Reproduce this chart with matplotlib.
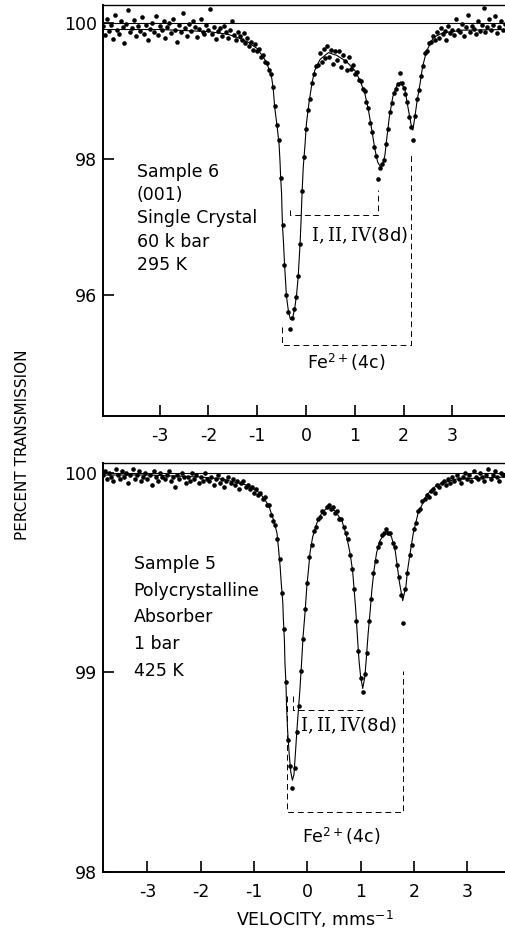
import matplotlib
matplotlib.use("Agg")
import matplotlib.pyplot as plt
import numpy as np

plt.rcParams['font.family'] = ['DejaVu Sans']
plt.rcParams['mathtext.fontset'] = 'dejavuserif'
plt.rcParams['axes.unicode_minus'] = False

# ---- Sample 6, (001) single crystal, 60 kbar, 295 K
V0_TOP, DV_TOP = -4.16, 0.04  # first velocity channel and channel width (mm/s)
trans_top = [
    99.95, 99.82, 100.05, 99.88, 99.97, 99.76, 100.12, 99.90, 99.84, 100.02,
    99.93, 99.70, 99.98, 100.18, 99.86, 99.92, 100.04, 99.80, 99.95, 99.88,
    100.08, 99.84, 99.96, 99.74, 99.91, 100.00, 99.87, 100.10, 99.82, 99.95,
    99.89, 100.03, 99.78, 99.93, 99.99, 99.85, 100.06, 99.90, 99.72, 99.97,
    99.86, 100.14, 99.92, 99.81, 99.98, 99.88, 100.02, 99.94, 99.79, 99.91,
    100.05, 99.87, 99.83, 99.96, 99.90, 100.20, 99.84, 99.93, 99.76, 99.88,
    99.92, 99.80, 99.95, 99.86, 99.78, 99.90, 100.02, 99.82, 99.75, 99.87,
    99.80, 99.74, 99.85, 99.70, 99.78, 99.66, 99.72, 99.60, 99.68, 99.58,
    99.62, 99.50, 99.53, 99.42, 99.41, 99.30, 99.25, 99.05, 98.77, 98.50,
    98.28, 97.72, 97.02, 96.44, 96.00, 95.75, 95.50, 95.66, 95.79, 95.97,
    96.28, 96.74, 97.52, 98.02, 98.44, 98.72, 98.88, 99.12, 99.24, 99.36,
    99.38, 99.55, 99.42, 99.62, 99.48, 99.66, 99.50, 99.60, 99.40, 99.58,
    99.45, 99.58, 99.35, 99.52, 99.44, 99.30, 99.50, 99.32, 99.38, 99.25,
    99.28, 99.16, 99.15, 99.02, 98.99, 98.83, 98.74, 98.53, 98.40, 98.17,
    98.04, 97.70, 97.86, 97.92, 97.98, 98.22, 98.44, 98.68, 98.82, 98.97,
    99.02, 99.10, 99.26, 99.11, 99.04, 98.95, 98.84, 98.62, 98.46, 98.28,
    98.63, 98.88, 99.01, 99.22, 99.36, 99.55, 99.58, 99.70, 99.72, 99.80,
    99.75, 99.86, 99.78, 99.92, 99.83, 99.88, 99.74, 99.95, 99.85, 99.90,
    99.82, 100.06, 99.90, 99.86, 99.98, 99.80, 99.93, 100.12, 99.87, 99.95,
    99.91, 99.84, 100.03, 99.88, 99.97, 100.22, 99.86, 99.93, 100.05, 99.89,
    99.96, 100.10, 99.85, 99.94, 100.02, 99.90, 99.98,
]
fit_top_v = [-4.16, -3.0, -2.0, -1.6, -1.4, -1.2, -1.0, -0.9, -0.81, -0.74,
             -0.70, -0.67, -0.64, -0.59, -0.55, -0.53, -0.52, -0.50, -0.49, -0.48,
             -0.46, -0.44, -0.42, -0.40, -0.36, -0.32, -0.28, -0.23, -0.19, -0.16,
             -0.14, -0.12, -0.10, -0.08, -0.055, -0.02, 0.01, 0.06, 0.12, 0.18,
             0.29, 0.46, 0.63, 0.83, 1.00, 1.11, 1.21, 1.28, 1.35, 1.41,
             1.47, 1.53, 1.58, 1.62, 1.66, 1.71, 1.78, 1.86, 1.94, 2.03,
             2.10, 2.15, 2.19, 2.23, 2.28, 2.34, 2.39, 2.47, 2.61, 2.80,
             3.20, 4.08]
fit_top_t = [99.90, 99.90, 99.87, 99.83, 99.78, 99.72, 99.62, 99.52, 99.42, 99.28,
             99.18, 99.02, 98.75, 98.47, 98.20, 97.93, 97.74, 97.49, 97.22, 97.00,
             96.76, 96.46, 96.22, 95.98, 95.76, 95.64, 95.64, 95.80, 96.02, 96.26,
             96.51, 96.76, 97.10, 97.50, 97.88, 98.20, 98.52, 98.81, 99.10, 99.30,
             99.46, 99.56, 99.52, 99.43, 99.30, 99.15, 98.95, 98.72, 98.42, 98.15,
             97.95, 97.88, 97.93, 98.06, 98.32, 98.62, 98.91, 99.07, 99.13, 99.01,
             98.72, 98.52, 98.42, 98.60, 98.86, 99.11, 99.35, 99.58, 99.78, 99.85,
             99.89, 99.90]

# ---- Sample 5, polycrystalline absorber, 1 bar, 425 K
V0_BOT, DV_BOT = -3.84, 0.04
trans_bot = [
    99.99, 100.01, 99.97, 100.00, 99.98, 99.96, 100.02, 99.99, 99.97, 100.01,
    99.98, 100.00, 99.95, 99.99, 100.02, 99.97, 99.99, 100.01, 99.96, 99.98,
    100.00, 99.97, 99.99, 99.94, 100.01, 99.98, 99.96, 100.00, 99.98, 99.97,
    99.99, 100.01, 99.96, 99.98, 99.93, 99.99, 99.97, 100.00, 99.98, 99.95,
    99.98, 99.96, 100.00, 99.97, 99.99, 99.95, 99.98, 99.96, 100.00, 99.97,
    99.96, 99.98, 99.94, 99.97, 99.99, 99.95, 99.97, 99.93, 99.96, 99.98,
    99.95, 99.97, 99.94, 99.96, 99.92, 99.95, 99.96, 99.93, 99.94, 99.92,
    99.93, 99.90, 99.92, 99.89, 99.90, 99.87, 99.88, 99.84, 99.84, 99.79,
    99.76, 99.74, 99.67, 99.57, 99.40, 99.22, 98.95, 98.66, 98.53, 98.42,
    98.52, 98.70, 98.83, 99.01, 99.17, 99.32, 99.45, 99.58, 99.64, 99.71,
    99.73, 99.77, 99.78, 99.81, 99.80, 99.83, 99.84, 99.82, 99.83, 99.80,
    99.81, 99.77, 99.77, 99.73, 99.70, 99.67, 99.59, 99.52, 99.42, 99.26,
    99.11, 98.97, 98.90, 98.99, 99.10, 99.26, 99.37, 99.50, 99.56, 99.63,
    99.65, 99.69, 99.70, 99.72, 99.70, 99.70, 99.65, 99.63, 99.54, 99.48,
    99.39, 99.25, 99.42, 99.50, 99.59, 99.64, 99.72, 99.75, 99.81, 99.82,
    99.86, 99.87, 99.89, 99.88, 99.91, 99.92, 99.90, 99.94, 99.93, 99.95,
    99.96, 99.94, 99.97, 99.95, 99.98, 99.96, 99.99, 99.97, 99.95, 99.98,
    100.00, 99.97, 99.99, 99.96, 100.01, 99.98, 99.97, 100.00, 99.98, 99.96,
    99.99, 100.02, 99.97, 99.99, 100.01, 99.98, 99.96, 100.00, 99.99,
]
fit_bot_v = [-3.84, -3.0, -2.0, -1.6, -1.3, -1.14, -0.89, -0.73, -0.64, -0.57,
             -0.54, -0.51, -0.49, -0.46, -0.45, -0.43, -0.42, -0.40, -0.39, -0.37,
             -0.34, -0.31, -0.28, -0.25, -0.22, -0.19, -0.16, -0.14, -0.11, -0.08,
             -0.04, -0.01, 0.02, 0.05, 0.10, 0.18, 0.27, 0.39, 0.52, 0.65,
             0.74, 0.80, 0.85, 0.88, 0.91, 0.94, 0.97, 1.00, 1.04, 1.08,
             1.11, 1.14, 1.18, 1.21, 1.25, 1.30, 1.36, 1.49, 1.58, 1.65,
             1.69, 1.73, 1.79, 1.85, 1.88, 1.93, 1.99, 2.08, 2.24, 2.43,
             2.80, 3.71]
fit_bot_t = [99.99, 99.99, 99.98, 99.97, 99.95, 99.94, 99.90, 99.84, 99.77, 99.70,
             99.62, 99.53, 99.45, 99.35, 99.27, 99.16, 99.05, 98.94, 98.83, 98.71,
             98.59, 98.50, 98.46, 98.49, 98.61, 98.73, 98.84, 98.91, 99.04, 99.18,
             99.31, 99.43, 99.51, 99.60, 99.68, 99.75, 99.80, 99.83, 99.81, 99.76,
             99.68, 99.60, 99.51, 99.41, 99.31, 99.18, 99.06, 98.98, 98.92, 98.98,
             99.08, 99.19, 99.31, 99.41, 99.51, 99.60, 99.66, 99.71, 99.68, 99.61,
             99.53, 99.45, 99.36, 99.43, 99.51, 99.60, 99.70, 99.80, 99.89, 99.94,
             99.97, 99.98]

# site brackets: [left v, right v], level, [left leg top, right leg top]
br_top_8d = ([-0.33, 1.48], 97.17, [97.25, 97.54])
br_top_4c = ([-0.50, 2.15], 95.26, [95.53, 98.08])
br_bot_8d = ([-0.26, 1.05], 98.81, [98.88, 98.81])
br_bot_4c = ([-0.375, 1.79], 98.30, [98.88, 99.01])

sample_top = ["Sample 6", "(001)", "Single Crystal", "60 k bar", "295 K"]
sample_bot = ["Sample 5", "Polycrystalline", "Absorber", "1 bar", "425 K"]
xticks = [-3, -2, -1, 0, 1, 2, 3]

FS = 12.5


def bracket(ax, br):
    v, level, tops = br
    ax.plot([v[0], v[0], v[1], v[1]], [tops[0], level, level, tops[1]],
            color='k', lw=0.7, ls=(0, (6, 4)))


def style(ax, xlim, ylim, yticks):
    ax.set_xlim(*xlim)
    ax.set_ylim(*ylim)
    ax.set_xticks(xticks)
    ax.set_yticks(yticks)
    ax.spines['right'].set_visible(False)
    for s in ('left', 'bottom', 'top'):
        ax.spines[s].set_linewidth(1.4)
    ax.spines['top'].set_linewidth(1.0)
    ax.tick_params(axis='x', direction='in', length=8, width=1.2, pad=8, labelsize=FS)
    ax.tick_params(axis='y', direction='in', length=8, width=1.2, pad=4, labelsize=FS)
    ax.axhline(100, color='k', lw=0.8)


fig = plt.figure(figsize=(5.05, 9.32), dpi=100)
ax1 = fig.add_axes([0.204, 0.5536, 0.796, 0.441])
ax2 = fig.add_axes([0.2034, 0.0644, 0.7966, 0.4392])

vel_top = V0_TOP + DV_TOP * np.arange(len(trans_top))
vel_bot = V0_BOT + DV_BOT * np.arange(len(trans_bot))

ax1.plot(fit_top_v, fit_top_t, color='k', lw=0.8)
ax1.plot(vel_top, trans_top, 'o', color='k', ms=3.3, mew=0)
ax2.plot(fit_bot_v, fit_bot_t, color='k', lw=0.8)
ax2.plot(vel_bot, trans_bot, 'o', color='k', ms=3.3, mew=0)

style(ax1, (-4.16, 4.08), (94.216, 100.26), [96, 98, 100])
style(ax2, (-3.84, 3.71), (98, 100.052), [98, 99, 100])

for br in (br_top_8d, br_top_4c):
    bracket(ax1, br)
for br in (br_bot_8d, br_bot_4c):
    bracket(ax2, br)

ax1.text(1.09, 96.86, r"$\mathrm{I,II,IV}$(8d)", ha='center', va='center', fontsize=13)
ax1.text(0.82, 95.01, r"Fe$^{\mathsf{2+}}$(4c)", ha='center', va='center', fontsize=FS)
ax2.text(0.78, 98.73, r"$\mathrm{I,II,IV}$(8d)", ha='center', va='center', fontsize=13)
ax2.text(0.645, 98.18, r"Fe$^{\mathsf{2+}}$(4c)", ha='center', va='center', fontsize=FS)

for i, line in enumerate(sample_top):
    ax1.annotate(line, (-3.47, 97.81), xytext=(0, -16.8 * i), textcoords='offset points',
                 ha='left', va='center', fontsize=FS)
for i, line in enumerate(sample_bot):
    ax2.annotate(line, (-3.26, 99.546), xytext=(0, -19.4 * i), textcoords='offset points',
                 ha='left', va='center', fontsize=FS)

fig.text(0.044, 0.5225, "PERCENT TRANSMISSION", rotation=90, ha='center', va='center',
         fontsize=11)
fig.text(0.624, 0.014, r"VELOCITY, mms$^{\mathsf{-1}}$", ha='center', va='center', fontsize=FS)

fig.savefig("out.png", dpi=100)
